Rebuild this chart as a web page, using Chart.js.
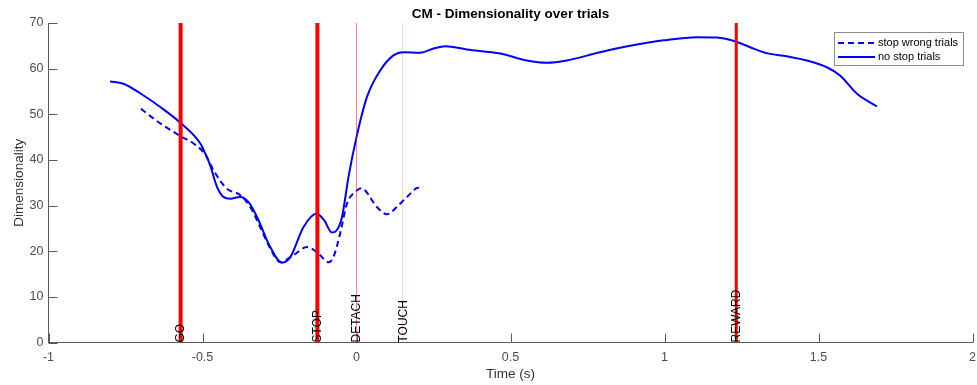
<!DOCTYPE html>
<html><head><meta charset="utf-8">
<script src="https://cdn.jsdelivr.net/npm/chart.js@4"></script>
<style>html,body{margin:0;padding:0;background:#fff}#wrap{width:977px;height:385px}</style>
</head><body><div id="wrap"><canvas id="c" width="977" height="385"></canvas></div>
<script>
const noStopTime = [-0.80,-0.757,-0.70,-0.637,-0.571,-0.507,-0.491,-0.475,-0.453,-0.432,-0.41,-0.378,-0.351,-0.323,-0.28,-0.242,-0.215,-0.172,-0.13,-0.105,-0.08,-0.064,-0.047,-0.026,0.0,0.034,0.077,0.12,0.153,0.207,0.25,0.288,0.358,0.467,0.553,0.618,0.683,0.791,0.889,0.997,1.105,1.17,1.233,1.278,1.332,1.397,1.462,1.527,1.57,1.625,1.69];
const noStopDim  = [57.2,56.7,54.5,51.6,48.1,43.6,41.4,38.8,34.1,31.9,31.5,31.9,30.8,27.5,20.9,17.5,18.7,25.3,28.2,26.8,24.1,24.6,27.5,36.3,45.0,53.8,59.6,62.9,63.6,63.5,64.4,64.9,64.2,63.3,61.8,61.3,61.8,63.6,65.0,66.2,66.9,66.8,65.9,64.7,63.4,62.7,61.8,60.3,58.5,54.5,51.7];
const stopWrongTime = [-0.70,-0.637,-0.571,-0.529,-0.491,-0.464,-0.421,-0.378,-0.345,-0.313,-0.28,-0.248,-0.205,-0.161,-0.129,-0.118,-0.091,-0.075,-0.053,-0.031,0.001,0.015,0.028,0.066,0.099,0.131,0.164,0.201,0.212];
const stopWrongDim  = [51.2,48.0,45.2,43.6,41.2,37.7,33.7,32.3,29.7,25.3,20.6,17.6,19.1,20.9,19.8,19.1,17.6,18.7,23.9,30.4,33.3,33.8,33.3,29.7,28.1,29.7,31.9,33.9,33.3];
const eventNames = ['GO','STOP','DETACH','TOUCH','REWARD'];
const eventTimes = [-0.571,-0.127,0,0.15,1.233];
const xTicks = [-1,-0.5,0,0.5,1,1.5,2];
const yTicks = [0,10,20,30,40,50,60,70];
const seriesNames = ['stop wrong trials','no stop trials'];
const titleText = 'CM - Dimensionality over trials';
const xLabel = 'Time (s)';
const yLabel = 'Dimensionality';

const FONT = "'Liberation Sans', Arial, Helvetica, sans-serif";
const AXIS = '#5a5a5a';
const evWidths = [4,4,1,1,3];
const evColors = ['#ff0000','#ff0000','rgba(255,0,0,0.5)','rgba(255,0,0,0.22)','#ff0000'];

const toXY = (xs, ys) => xs.map((x,i)=>({x:x, y:ys[i]}));

const datasets = [];
eventTimes.forEach((t,i)=>{
  datasets.push({label:eventNames[i], data:[{x:t,y:0},{x:t,y:70}], borderColor:evColors[i], borderWidth:evWidths[i], pointRadius:0, order:0, tension:0});
});
datasets.push({label:seriesNames[0], data:toXY(stopWrongTime, stopWrongDim), borderColor:'#0000ff', borderWidth:2, borderDash:[6,4], pointRadius:0, cubicInterpolationMode:'monotone', order:1});
datasets.push({label:seriesNames[1], data:toXY(noStopTime, noStopDim), borderColor:'#0000ff', borderWidth:2, pointRadius:0, cubicInterpolationMode:'monotone', order:1});

const deco = {
  id:'deco',
  afterDraw(chart){
    const ctx = chart.ctx, ca = chart.chartArea;
    const xs = chart.scales.x, ys = chart.scales.y;
    ctx.save();
    ctx.strokeStyle = AXIS; ctx.lineWidth = 1;
    xTicks.forEach(v=>{ const px = Math.round(xs.getPixelForValue(v))+0.5; ctx.beginPath(); ctx.moveTo(px, ca.bottom); ctx.lineTo(px, ca.bottom-9); ctx.stroke(); });
    yTicks.forEach(v=>{ const py = Math.round(ys.getPixelForValue(v))+0.5; ctx.beginPath(); ctx.moveTo(ca.left, py); ctx.lineTo(ca.left+9, py); ctx.stroke(); });
    ctx.fillStyle = '#000'; ctx.font = '12px '+FONT; ctx.textAlign='left'; ctx.textBaseline='middle';
    eventTimes.forEach((t,i)=>{
      const px = xs.getPixelForValue(t), py = ys.getPixelForValue(0);
      ctx.save(); ctx.translate(px, py); ctx.rotate(-Math.PI/2); ctx.fillText(eventNames[i], 0, 0.5); ctx.restore();
    });
    ctx.font = 'bold 13.5px '+FONT; ctx.textAlign='center'; ctx.fillStyle='#000';
    ctx.fillText(titleText, (ca.left+ca.right)/2, 14);
    const lx = 834.5, ly = 32.5, lw = 129, lh = 33;
    ctx.fillStyle='#fff'; ctx.fillRect(lx,ly,lw,lh);
    ctx.strokeStyle='#8c8c8c'; ctx.lineWidth=1; ctx.strokeRect(lx,ly,lw,lh);
    ctx.strokeStyle='#0000ff'; ctx.lineWidth=2;
    ctx.setLineDash([6,4]); ctx.beginPath(); ctx.moveTo(838,43); ctx.lineTo(875,43); ctx.stroke();
    ctx.setLineDash([]); ctx.beginPath(); ctx.moveTo(838,57); ctx.lineTo(875,57); ctx.stroke();
    ctx.fillStyle='#000'; ctx.font='11px '+FONT; ctx.textAlign='left'; ctx.textBaseline='middle';
    ctx.fillText(seriesNames[0], 878, 43);
    ctx.fillText(seriesNames[1], 878, 57);
    ctx.restore();
  }
};

new Chart(document.getElementById('c'), {
  type:'line',
  data:{datasets:datasets},
  options:{
    responsive:false, animation:false, devicePixelRatio:1,
    layout:{padding:{top:23, right:4.5, left:0, bottom:0}},
    plugins:{legend:{display:false}, title:{display:false}, tooltip:{enabled:false}},
    scales:{
      x:{type:'linear', min:-1, max:2,
        afterBuildTicks:s=>{ s.ticks = xTicks.map(v=>({value:v})); },
        afterFit:s=>{ s.height = 42.5; s.paddingLeft = 0; s.paddingRight = 0; },
        ticks:{font:{family:FONT, size:12.5}, color:'#4d4d4d', padding:8, maxRotation:0, autoSkip:false, callback:v=>String(v)},
        grid:{display:false, drawTicks:false},
        border:{display:true, color:AXIS, width:1},
        title:{display:true, text:xLabel, font:{family:FONT, size:13.5}, color:'#333', padding:{top:0,bottom:3}}
      },
      y:{type:'linear', min:0, max:70,
        afterBuildTicks:s=>{ s.ticks = yTicks.map(v=>({value:v})); },
        afterFit:s=>{ s.width = 48.5; s.paddingTop = 0; s.paddingBottom = 0; },
        ticks:{font:{family:FONT, size:12.5}, color:'#4d4d4d', padding:5, autoSkip:false, callback:v=>String(v)},
        grid:{display:false, drawTicks:false},
        border:{display:true, color:AXIS, width:1},
        title:{display:true, text:yLabel, font:{family:FONT, size:13.5}, color:'#333', padding:{top:11,bottom:0}}
      }
    }
  },
  plugins:[deco]
});
</script>
</body></html>
